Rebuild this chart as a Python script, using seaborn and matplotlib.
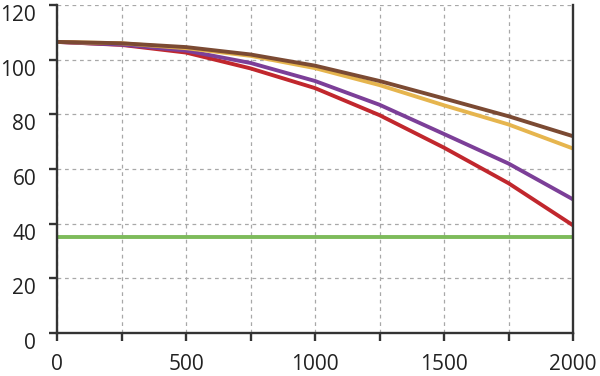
import pandas as pd
import numpy as np
import seaborn as sns
import matplotlib.pyplot as plt

# values, every 250 on x
x_vals = [0, 250, 500, 750, 1000, 1250, 1500, 1750, 2000]
brown = [106.5, 106.0, 104.6, 101.9, 97.8, 92.2, 85.8, 79.3, 72.0]
gold = [106.5, 106.0, 104.2, 101.4, 96.9, 90.7, 83.3, 76.3, 67.5]
purple = [106.5, 105.5, 103.3, 98.8, 92.2, 83.5, 72.8, 62.0, 48.9]
red = [106.5, 105.4, 102.6, 96.8, 89.6, 79.7, 67.8, 54.8, 39.4]
green = [35.3] * len(x_vals)

series_names = ['brown', 'gold', 'purple', 'red', 'green']
series_vals = [brown, gold, purple, red, green]
colors = ['#7b4a33', '#e6b54e', '#7c3f98', '#c1272d', '#7dbb5b']

rows = []
for name, vals in zip(series_names, series_vals):
    for xv, yv in zip(x_vals, vals):
        rows.append({'x': xv, 'y': yv, 'series': name})
df = pd.DataFrame(rows)

sns.set_style('white')
plt.rcParams['font.family'] = ['Open Sans', 'DejaVu Sans']

fig = plt.figure(figsize=(6, 3.76), dpi=100)
ax = fig.add_axes([0.095, 0.1144, 0.86, 0.8723])

# green goes underneath, drawn first
order = ['green', 'red', 'purple', 'gold', 'brown']
sns.lineplot(data=df, x='x', y='y', hue='series', hue_order=order,
             palette=dict(zip(series_names, colors)), linewidth=2.8,
             legend=False, ax=ax)

ax.set_xlim(0, 2000)
ax.set_ylim(0, 120)
ax.set_xticks(np.arange(0, 2001, 250))
ax.set_xticklabels([str(v) if v % 500 == 0 else '' for v in range(0, 2001, 250)])
ax.set_yticks(np.arange(0, 121, 20))
ax.set_xlabel('')
ax.set_ylabel('')

ax.grid(True, color='#a8a8a8', linestyle=(0, (3, 3)), linewidth=0.9)
ax.set_axisbelow(True)

for s in ['left', 'bottom', 'right']:
    ax.spines[s].set_visible(True)
    ax.spines[s].set_color('#333333')
    ax.spines[s].set_linewidth(1.7)
ax.spines['top'].set_visible(False)

ax.tick_params(axis='both', direction='out', length=6, width=1.7,
               color='#333333', labelsize=15, labelcolor='#222222')
ax.tick_params(axis='y', pad=9, left=True)
ax.tick_params(axis='x', pad=9, bottom=True)

# y labels sit just under their tick in the reference
for lab in ax.get_yticklabels():
    lab.set_va('top')

fig.savefig('out.png', dpi=100)
